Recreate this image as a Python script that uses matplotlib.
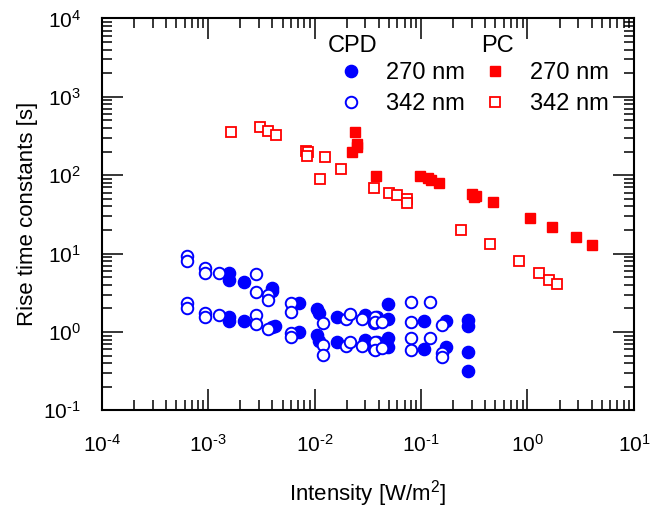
import numpy as np
import matplotlib
matplotlib.use("Agg")
import matplotlib.pyplot as plt
from matplotlib.ticker import LogLocator, NullFormatter, FuncFormatter

plt.rcParams['font.family'] = ['Liberation Sans', 'DejaVu Sans']
plt.rcParams['mathtext.fontset'] = 'custom'
plt.rcParams['mathtext.rm'] = 'Liberation Sans'

# ---- data ----
# CPD, 270 nm (filled circles)
cpd270_x = [1.56e-3, 1.56e-3, 1.56e-3, 1.56e-3, 2.18e-3, 2.18e-3,
            3.95e-3, 3.95e-3, 3.95e-3, 4.2e-3, 7.2e-3, 7.2e-3,
            0.0105, 0.011, 0.0105, 0.011, 0.0161, 0.0161,
            0.0298, 0.0298, 0.0383, 0.0383,
            0.0493, 0.0493, 0.0493, 0.0493, 0.107, 0.107,
            0.172, 0.172, 0.279, 0.279, 0.279, 0.279]
cpd270_y = [5.6, 4.6, 1.57, 1.36, 4.4, 1.39,
            3.6, 3.3, 1.17, 1.2, 2.33, 1.01,
            1.95, 1.74, 0.92, 0.77, 1.57, 0.755,
            1.65, 0.79, 1.57, 0.755,
            2.26, 1.46, 0.834, 0.64, 1.36, 0.608,
            1.36, 0.64, 1.43, 1.20, 0.56, 0.313]

# CPD, 342 nm (open circles)
cpd342_x = [6.3e-4, 6.3e-4, 6.3e-4, 6.3e-4, 9.3e-4, 9.3e-4, 9.3e-4, 9.3e-4,
            1.26e-3, 1.26e-3, 2.79e-3, 2.79e-3, 2.79e-3, 2.79e-3,
            3.67e-3, 3.67e-3, 3.67e-3, 5.96e-3, 5.96e-3, 5.96e-3, 5.96e-3,
            0.0121, 0.0121, 0.0121, 0.0197, 0.0215, 0.0197, 0.0215,
            0.0277, 0.0277, 0.0361, 0.0361, 0.037, 0.037, 0.037, 0.037,
            0.0428, 0.0428, 0.080, 0.080, 0.080, 0.080,
            0.1215, 0.1215, 0.156, 0.156, 0.156]
cpd342_y = [9.4, 8.0, 2.33, 2.05, 6.5, 5.6, 1.74, 1.53,
            5.6, 1.65, 5.56, 3.22, 1.65, 1.26,
            2.97, 2.57, 1.09, 2.33, 1.82, 0.966, 0.859,
            1.29, 0.685, 0.51, 1.46, 1.70, 0.665, 0.755,
            1.46, 0.665, 1.29, 0.60, 1.57, 1.33, 0.755, 0.59,
            1.33, 0.62, 2.40, 1.32, 0.849, 0.58,
            2.40, 0.849, 1.23, 0.546, 0.485]

# PC, 270 nm (filled squares)
pc270_x = [0.0241, 0.0250, 0.0250, 0.0226, 0.038, 0.0973, 0.1156, 0.123,
           0.1466, 0.301, 0.329, 0.315, 0.472, 1.06, 1.70, 2.84, 4.02]
pc270_y = [357, 248, 232, 196, 98, 98, 92.4, 87,
           79.8, 57.2, 55, 52.4, 45.2, 28.8, 22.1, 16.5, 13.0]

# PC, 342 nm (open squares)
pc342_x = [1.63e-3, 3.07e-3, 3.62e-3, 4.34e-3, 8.3e-3, 8.7e-3, 8.4e-3,
           0.0126, 0.0175, 0.0113, 0.0364, 0.0497, 0.0591, 0.0739, 0.0745,
           0.238, 0.442, 0.834, 1.27, 1.61, 1.91]
pc342_y = [353, 417, 367, 324, 204, 196, 178,
           171, 121, 89.8, 69.5, 60, 55.6, 49.4, 44,
           20.2, 13.2, 8.0, 5.6, 4.6, 4.07]

blue = '#0000ff'
red = '#ff0000'


def pow10(v, pos):
    e = int(round(np.log10(v)))
    if e < 0:
        return r'$\mathdefault{10^{\text{-}%d}}$' % (-e)
    return r'$\mathdefault{10^{%d}}$' % e


fig = plt.figure(figsize=(6.61, 5.11), dpi=100)
ax = fig.add_axes([0.154, 0.197, 0.805, 0.767])

h1, = ax.plot(cpd270_x, cpd270_y, 'o', ms=8.8, color=blue, mec=blue,
              ls='none', zorder=3)
h2, = ax.plot(cpd342_x, cpd342_y, 'o', ms=8.3, mfc='white', mec=blue,
              mew=1.4, ls='none', zorder=4)
h3, = ax.plot(pc270_x, pc270_y, 's', ms=7.6, color=red, mec=red,
              ls='none', zorder=3)
h4, = ax.plot(pc342_x, pc342_y, 's', ms=7.0, mfc='white', mec=red,
              mew=1.3, ls='none', zorder=4)

ax.set_xscale('log')
ax.set_yscale('log')
ax.set_xlim(1e-4, 1e1)
ax.set_ylim(1e-1, 1e4)

ax.xaxis.set_major_locator(LogLocator(base=10, numticks=10))
ax.yaxis.set_major_locator(LogLocator(base=10, numticks=10))
ax.xaxis.set_minor_locator(LogLocator(base=10, subs=np.arange(2, 10), numticks=20))
ax.yaxis.set_minor_locator(LogLocator(base=10, subs=np.arange(2, 10), numticks=20))
ax.xaxis.set_major_formatter(FuncFormatter(pow10))
ax.yaxis.set_major_formatter(FuncFormatter(pow10))
ax.xaxis.set_minor_formatter(NullFormatter())
ax.yaxis.set_minor_formatter(NullFormatter())

ax.tick_params(which='both', direction='in', top=True, right=True,
               labelsize=15, width=1.1)
ax.tick_params(which='major', length=15)
ax.tick_params(which='minor', length=7.5)
ax.tick_params(axis='x', which='major', pad=17)
ax.tick_params(axis='y', which='major', pad=15)
for s in ax.spines.values():
    s.set_linewidth(1.5)

ax.set_xlabel('Intensity [W/m$^2$]', fontsize=16, labelpad=16)
ax.set_ylabel('Rise time constants [s]', fontsize=16, labelpad=4)

leg = ax.legend([h1, h2, h3, h4], ['270 nm', '342 nm', '270 nm', '342 nm'],
                ncol=2, frameon=False, fontsize=17, handlelength=1.0,
                handletextpad=1.0, columnspacing=0.75, labelspacing=0.36,
                loc='upper right', bbox_to_anchor=(0.953, 0.888),
                borderaxespad=0.0, borderpad=0.0)
ax.text(0.472, 0.93, 'CPD', transform=ax.transAxes, fontsize=17,
        ha='center', va='center')
ax.text(0.743, 0.93, 'PC', transform=ax.transAxes, fontsize=17,
        ha='center', va='center')

fig.savefig('out.png', dpi=100)
